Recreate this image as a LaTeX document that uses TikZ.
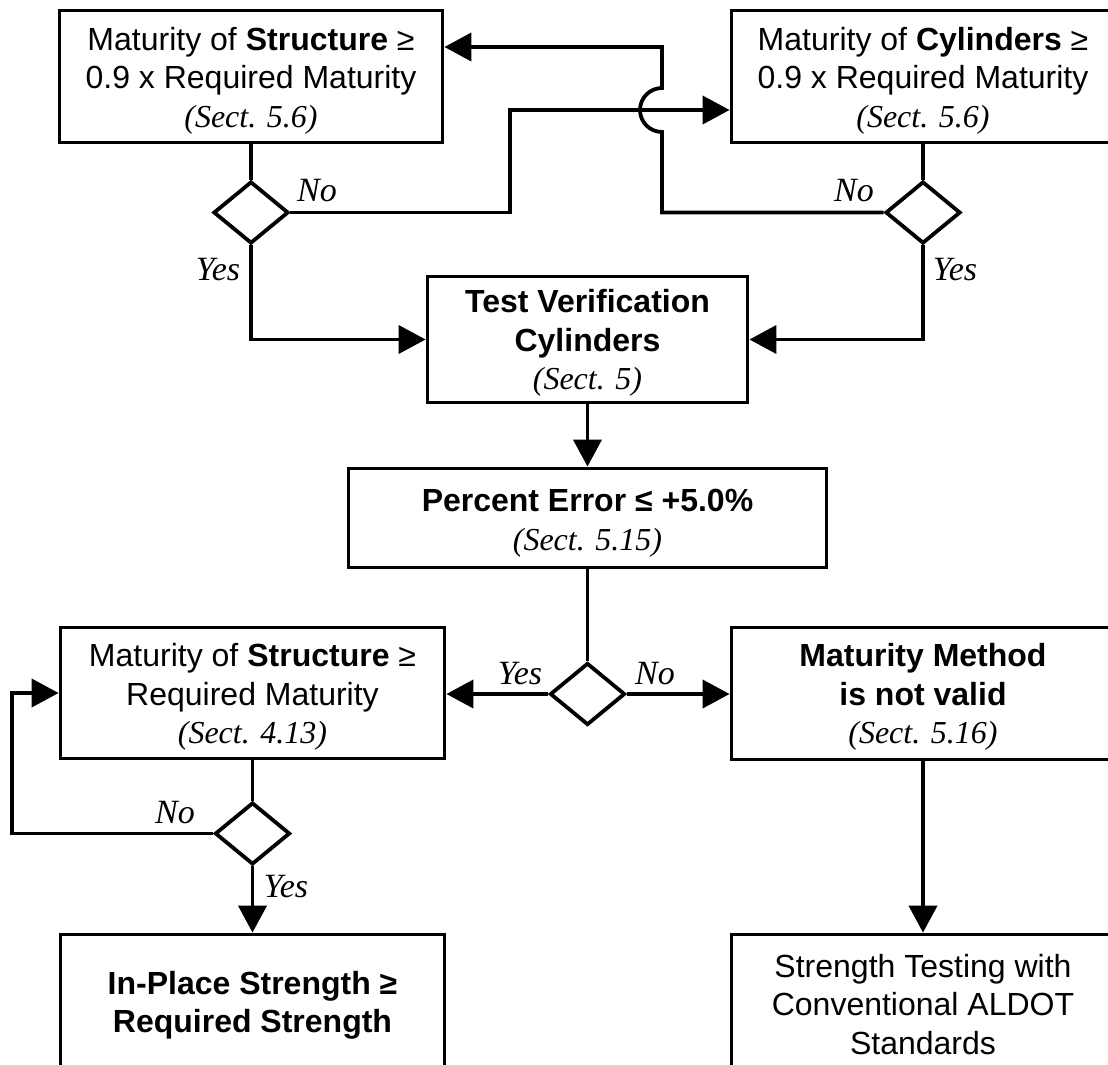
\documentclass[tikz,border=0pt]{standalone}
\usepackage{fontspec}
\setmainfont{Liberation Sans}
\newfontfamily\tms{Liberation Serif}
\usetikzlibrary{arrows.meta,shapes.geometric,calc}
\newcommand\sectx[1]{{\tms\itshape #1}}
\newcommand\topstrutx[1]{\rule{0pt}{#1}}
\newcommand\botstrutx[1]{\rule[-#1]{0pt}{#1}}
\begin{document}
\begin{tikzpicture}[x=1pt,y=-1pt,
  lw/.style={line width=3.8pt},
  box/.style={draw,lw,rectangle,inner sep=0pt,align=center,font=\fontsize{32}{38.5}\selectfont},
  dia/.style={draw,lw,diamond,minimum width=75pt,minimum height=62pt,inner sep=0pt},
  conn/.style={lw},
  arr/.style={lw,-{Triangle[length=27pt,width=28pt]}},
  lbl/.style={font=\fontsize{34}{38}\selectfont\tms\itshape,anchor=base,inner sep=0pt},
]
\useasboundingbox (0,0) rectangle (1108,1065);
\fill[white] (0,0) rectangle (1108,1065);
\clip (0,0) rectangle (1108,1065);

% boxes
\node[box,minimum width=383pt,minimum height=132pt] (b1) at (251,76.5)
  {\topstrutx{31pt}Maturity of \textbf{Structure} ≥\\0.9 x Required Maturity\\\sectx{(Sect. 5.6)}};
\node[box,minimum width=383pt,minimum height=132pt] (b2) at (923,76.5)
  {\topstrutx{31pt}Maturity of \textbf{Cylinders} ≥\\0.9 x Required Maturity\\\sectx{(Sect. 5.6)}};
\node[box,minimum width=320pt,minimum height=126pt] (b3) at (587.5,339.5)
  {\topstrutx{30pt}\textbf{Test Verification}\\\textbf{Cylinders}\\\sectx{(Sect. 5)}};
\node[box,minimum width=478pt,minimum height=99pt] (b4) at (587.5,518)
  {\topstrutx{33pt}\textbf{Percent Error ≤ +5.0\%}\\\sectx{(Sect. 5.15)}};
\node[box,minimum width=384pt,minimum height=131pt] (b5) at (252.5,693)
  {\topstrutx{31pt}Maturity of \textbf{Structure} ≥\\Required Maturity\\\sectx{(Sect. 4.13)}};
\node[box,minimum width=383pt,minimum height=132pt] (b6) at (923,693.5)
  {\topstrutx{30pt}\textbf{Maturity Method}\\\textbf{is not valid}\\\sectx{(Sect. 5.16)}};
\node[box,minimum width=384pt,minimum height=147pt] (b7) at (252.5,1008)
  {\textbf{In-Place Strength ≥}\\\textbf{Required Strength}\botstrutx{12pt}};
\node[box,minimum width=383pt,minimum height=147pt] (b8) at (923,1008)
  {Strength Testing with\\Conventional ALDOT\\Standards\botstrutx{8pt}};

% diamonds
\node[dia] (d1) at (251,212.5) {};
\node[dia] (d2) at (923,212.5) {};
\node[dia] (d3) at (587.5,694) {};
\node[dia] (d4) at (252.5,833.5) {};

% helper coordinates
\coordinate (j1) at (510,110);
\coordinate (j2) at (662,110);
\coordinate (j3) at (662,47);
\coordinate (j4) at (12,833.5);

% connectors
\draw[conn] (b1.south) -- (d1.north);
\draw[conn] (b2.south) -- (d2.north);
\draw[arr] (d1.east) -| (j1) -- (j1 -| b2.west);
\draw[arr] (d2.west) -| ($(j2)+(0,22)$) arc[start angle=270,end angle=90,radius=22pt] -- (j3) -- (j3 -| b1.east);
\draw[arr] (d1.south) |- (b3.west);
\draw[arr] (d2.south) |- (b3.east);
\draw[arr] (b3.south) -- (b4.north);
\draw[conn] (b4.south) -- (d3.north);
\draw[arr] (d3.west) -- (d3.west -| b5.east);
\draw[arr] (d3.east) -- (d3.east -| b6.west);
\draw[conn] (b5.south) -- (d4.north);
\draw[arr] (d4.west) -- (j4) |- (b5.west);
\draw[arr] (d4.south) -- (b7.north);
\draw[arr] (b6.south) -- (b8.north);

% labels
\node[lbl] (n1) at (317,201) {No};
\node[lbl] (y1) at (218,280) {Yes};
\node[lbl] (n2) at (854,201) {No};
\node[lbl] (y2) at (955,280) {Yes};
\node[lbl] (y3) at (520,684) {Yes};
\node[lbl] (n3) at (655,684) {No};
\node[lbl] (n4) at (175,823) {No};
\node[lbl] (y4) at (286,897) {Yes};
\end{tikzpicture}
\end{document}
